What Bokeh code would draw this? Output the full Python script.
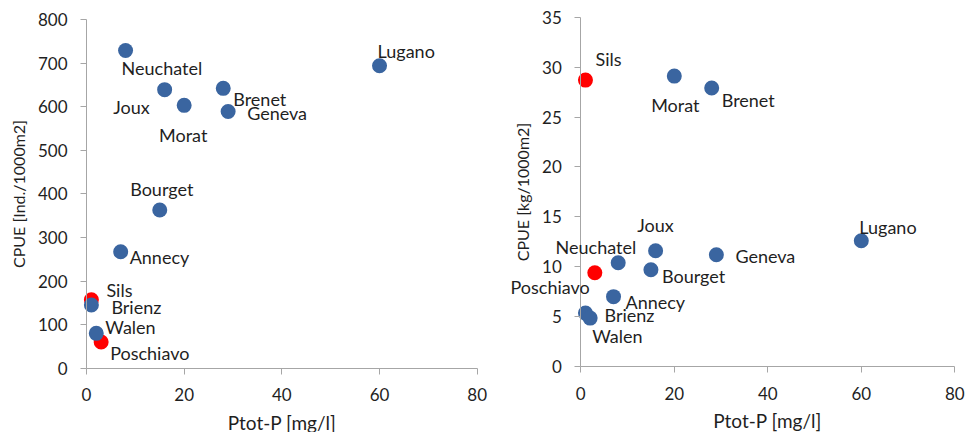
from bokeh.plotting import figure
from bokeh.layouts import row
from bokeh.models import (ColumnDataSource, FixedTicker, Range1d, LabelSet,
                          CDSView, IndexFilter)
from bokeh.core.properties import value, field
from bokeh.embed import file_html
from bokeh.resources import INLINE

# ---- data ----
lakes = ["Lugano", "Neuchatel", "Joux", "Morat", "Brenet", "Geneva",
         "Bourget", "Annecy", "Brienz", "Walen", "Sils", "Poschiavo"]
ptot = [60, 8, 16, 20, 28, 29, 15, 7, 1, 2, 1, 3]
cpue_ind = [694, 729, 639, 603, 642, 589, 363, 267, 145, 80, 157, 60]
cpue_kg = [12.6, 10.4, 11.6, 29.1, 27.9, 11.2, 9.7, 7.0, 5.35, 4.85, 28.7, 9.4]
group = ["main"] * 10 + ["highlight"] * 2

x_ticks = [0, 20, 40, 60, 80]
y_ticks_ind = [0, 100, 200, 300, 400, 500, 600, 700, 800]
y_ticks_kg = [0, 5, 10, 15, 20, 25, 30, 35]
X_MAX = 80

# label placement (screen px): align, dx, dy (dy positive = downwards)
lab_left = {
    "Lugano": ("left", -2, -15), "Neuchatel": ("left", -4, 18),
    "Joux": ("right", -15, 17), "Morat": ("center", -1, 30),
    "Brenet": ("left", 10, 11), "Geneva": ("left", 19, 2),
    "Bourget": ("center", 2, -21), "Annecy": ("left", 9, 5),
    "Brienz": ("left", 20, 2), "Walen": ("left", 9, -6),
    "Sils": ("left", 15, -10), "Poschiavo": ("left", 9, 11),
}
lab_right = {
    "Lugano": ("left", -2, -14), "Neuchatel": ("right", 18, -16),
    "Joux": ("center", 0, -26), "Morat": ("center", 1, 29),
    "Brenet": ("left", 10, 12), "Geneva": ("left", 19, 1),
    "Bourget": ("left", 11, 6), "Annecy": ("left", 12, 5),
    "Brienz": ("left", 19, 2), "Walen": ("left", 2, 18),
    "Sils": ("left", 10, -21), "Poschiavo": ("right", -5, 14),
}

BLUE = "#3A65A0"
RED = "#FF0000"
FONT = "Lato"
TXT = "#1F1F1F"
AX = "#A6A6A6"
H = 432


def make(yvals, yticks, ymax, ylabel, labs, W, ax_left, ax_right, ax_top, ax_bottom):
    # the whole canvas is the frame; axes are fixed at x=0 / y=0 so that
    # labels next to the axes are not clipped
    xs = X_MAX / (ax_right - ax_left)          # data per px
    ys = ymax / (ax_bottom - ax_top)
    xr = Range1d(-ax_left * xs, (W - ax_left) * xs)
    yr = Range1d(-(H - ax_bottom) * ys, ax_bottom * ys)
    p = figure(output_backend="svg", toolbar_location=None,
               frame_width=W, frame_height=H,
               min_border_left=0, min_border_top=0, min_border_right=0,
               min_border_bottom=0, x_range=xr, y_range=yr)
    p.outline_line_color = None
    p.grid.visible = False
    p.background_fill_color = "white"
    p.border_fill_color = "white"
    for ax in (p.xaxis[0], p.yaxis[0]):
        ax.axis_line_color = AX
        ax.major_tick_line_color = AX
        ax.minor_tick_line_color = None
        ax.major_tick_out = 6
        ax.major_tick_in = 0
        ax.major_label_text_font = FONT
        ax.major_label_text_font_size = "17px"
        ax.major_label_text_color = TXT
        ax.axis_label_text_font = FONT
        ax.axis_label_text_font_style = "normal"
        ax.axis_label_text_color = TXT
        ax.fixed_location = 0
    p.xaxis.axis_label_text_font_size = "19px"
    p.yaxis.axis_label_text_font_size = "16px"
    p.xaxis.ticker = FixedTicker(ticks=x_ticks)
    p.yaxis.ticker = FixedTicker(ticks=yticks)
    p.xaxis.bounds = (0, X_MAX)
    p.yaxis.bounds = (0, ymax)
    p.xaxis.axis_label = "Ptot-P [mg/l]"
    p.yaxis.axis_label = ylabel
    p.xaxis.major_label_standoff = 14
    p.yaxis.major_label_standoff = 13
    p.xaxis.axis_label_standoff = 6
    p.yaxis.axis_label_standoff = 7

    src = ColumnDataSource(dict(
        x=ptot, y=yvals, name=lakes, g=group,
        align=[labs[n][0] for n in lakes],
        dx=[labs[n][1] for n in lakes],
        dy=[-labs[n][2] for n in lakes],
    ))
    hi = [i for i, g in enumerate(group) if g == "highlight"]
    mn = [i for i, g in enumerate(group) if g == "main"]
    p.scatter("x", "y", source=src, view=CDSView(filter=IndexFilter(hi)),
              size=15, fill_color=RED, line_color=None)
    p.scatter("x", "y", source=src, view=CDSView(filter=IndexFilter(mn)),
              size=15, fill_color=BLUE, line_color=None)
    labels = LabelSet(x="x", y="y", text="name", source=src,
                      x_offset="dx", y_offset="dy",
                      text_align=field("align"), text_baseline="middle",
                      text_font=value(FONT), text_font_size="18px",
                      text_color=TXT)
    p.add_layout(labels)
    return p


p1 = make(cpue_ind, y_ticks_ind, 800, "CPUE [Ind./1000m2]", lab_left,
          500, 86.0, 476.7, 19.0, 367.7)
p2 = make(cpue_kg, y_ticks_kg, 35, "CPUE [kg/1000m2]", lab_right,
          468, 580.3 - 500, 954.3 - 500, 16.7, 366.0)

layout = row(p1, p2)
open("out.html", "w").write(file_html(layout, INLINE))
